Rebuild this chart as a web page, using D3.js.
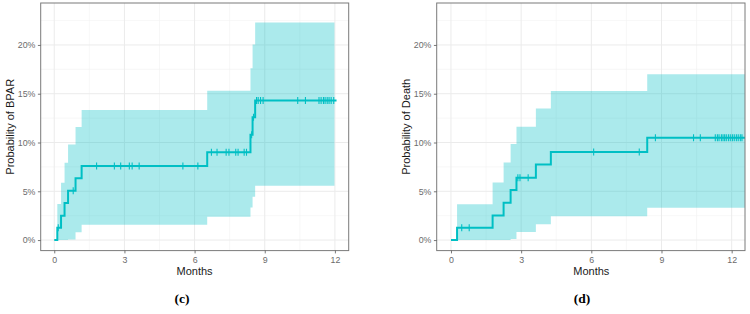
<!DOCTYPE html>
<html>
<head>
<meta charset="utf-8">
<script src="https://cdn.jsdelivr.net/npm/d3@7"></script>
<style>
  html, body { margin: 0; padding: 0; background: #fff; }
  svg { display: block; }
</style>
</head>
<body>
<svg id="chart" width="750" height="314"></svg>
<script>
// ---------- shared axis ticks ----------
const monthTicks = [0, 3, 6, 9, 12];
const monthMinor = [1.5, 4.5, 7.5, 10.5];
const pctTicks = [0, 5, 10, 15, 20];
const pctMinor = [2.5, 7.5, 12.5, 17.5, 22.5];

// ---------- panel (c): BPAR ----------
const bparTime  = [0, 0.13, 0.29, 0.44, 0.59, 0.91, 1.17, 6.54, 8.39, 8.48, 8.59];
const bparEst   = [0, 1.25, 2.50, 3.80, 5.06, 6.33, 7.60, 9.00, 10.80, 12.60, 14.30];
const bparUpper = [0, 3.69, 5.87, 7.92, 9.80, 11.58, 13.32, 15.30, 17.60, 20.05, 22.30];
const bparLower = [0, 0, 0, 0, 0.07, 0.79, 1.57, 2.39, 3.35, 4.44, 5.57];
const bparLineEnd = 12.07;
const bparBandEnd = 11.98;
const bparCensor = [0.17, 0.81, 1.81, 2.57, 2.84, 3.21, 3.33, 3.63, 5.50, 6.14,
  6.72, 6.96, 7.35, 7.47, 7.76, 7.86, 8.12, 8.22, 8.44, 8.52,
  8.65, 8.72, 8.82, 8.93, 10.41, 10.74, 11.32, 11.41, 11.51, 11.58, 11.67, 11.75, 11.84, 11.95];

// ---------- panel (d): Death ----------
const deathTime  = [0, 0.26, 1.78, 2.25, 2.55, 2.80, 3.63, 4.27, 8.39];
const deathEst   = [0, 1.26, 2.53, 3.82, 5.12, 6.38, 7.75, 9.02, 10.48];
const deathUpper = [0, 3.66, 5.91, 7.96, 9.84, 11.61, 13.49, 15.27, 17.00];
const deathLower = [0, 0, 0, 0, 0.10, 0.82, 1.61, 2.43, 3.31];
const deathLineEnd = 12.6;
const deathBandEnd = 12.6;
const deathCensor = [0.46, 0.78, 2.86, 2.95, 3.30, 6.10, 8.05, 8.74, 10.37, 10.66,
  11.30, 11.39, 11.46, 11.56, 11.63, 11.70, 11.77, 11.86, 11.94, 12.03, 12.11, 12.20, 12.28, 12.37, 12.44];

const teal = "#00BFC4";
const svg = d3.select("#chart");

function drawPanel(cfg) {
  const { left, right, top, bottom, xDomain, yDomain, times, est, upper, lower,
          lineEnd, bandEnd, censor, yTitle, titleX, caption, captionX, id } = cfg;
  const x = d3.scaleLinear().domain(xDomain).range([left, right]);
  const y = d3.scaleLinear().domain(yDomain).range([bottom, top]);
  const g = svg.append("g");

  g.append("clipPath").attr("id", id)
    .append("rect").attr("x", left).attr("y", top)
    .attr("width", right - left).attr("height", bottom - top);

  // grid
  const grid = g.append("g");
  grid.selectAll(".vmin").data(monthMinor).join("line")
    .attr("x1", d => x(d)).attr("x2", d => x(d)).attr("y1", top).attr("y2", bottom)
    .attr("stroke", "#F2F2F2").attr("stroke-width", 0.6);
  grid.selectAll(".hmin").data(pctMinor).join("line")
    .attr("y1", d => y(d)).attr("y2", d => y(d)).attr("x1", left).attr("x2", right)
    .attr("stroke", "#F2F2F2").attr("stroke-width", 0.6);
  grid.selectAll(".vmaj").data(monthTicks).join("line")
    .attr("x1", d => x(d)).attr("x2", d => x(d)).attr("y1", top).attr("y2", bottom)
    .attr("stroke", "#EBEBEB").attr("stroke-width", 1);
  grid.selectAll(".hmaj").data(pctTicks).join("line")
    .attr("y1", d => y(d)).attr("y2", d => y(d)).attr("x1", left).attr("x2", right)
    .attr("stroke", "#EBEBEB").attr("stroke-width", 1);

  const plot = g.append("g").attr("clip-path", `url(#${id})`);

  // confidence band
  const bandPts = times.map((t, i) => ({ t, lo: lower[i], hi: upper[i] }));
  bandPts.push({ t: bandEnd, lo: lower[lower.length - 1], hi: upper[upper.length - 1] });
  plot.append("path").datum(bandPts)
    .attr("d", d3.area().curve(d3.curveStepAfter)
      .x(d => x(d.t)).y0(d => y(d.lo)).y1(d => y(d.hi)))
    .attr("fill", teal).attr("fill-opacity", 0.33).attr("stroke", "none");

  // KM step line
  const linePts = times.map((t, i) => ({ t, v: est[i] }));
  linePts.push({ t: lineEnd, v: est[est.length - 1] });
  plot.append("path").datum(linePts)
    .attr("d", d3.line().curve(d3.curveStepAfter).x(d => x(d.t)).y(d => y(d.v)))
    .attr("fill", "none").attr("stroke", teal).attr("stroke-width", 2);

  // censor marks
  const valueAt = t => est[Math.max(0, d3.bisectRight(times, t) - 1)];
  plot.selectAll(".cens").data(censor).join("line")
    .attr("x1", d => x(d)).attr("x2", d => x(d))
    .attr("y1", d => y(valueAt(d)) - 3.5).attr("y2", d => y(valueAt(d)) + 3.5)
    .attr("stroke", teal).attr("stroke-width", 1.1);

  // panel border
  g.append("rect").attr("x", left).attr("y", top)
    .attr("width", right - left).attr("height", bottom - top)
    .attr("fill", "none").attr("stroke", "#7a7a7a").attr("stroke-width", 1);

  // axes
  const xAxis = g.append("g").attr("transform", `translate(0,${bottom})`)
    .call(d3.axisBottom(x).tickValues(monthTicks).tickSize(2.8).tickPadding(3).tickFormat(d3.format("d")));
  const yAxis = g.append("g").attr("transform", `translate(${left},0)`)
    .call(d3.axisLeft(y).tickValues(pctTicks).tickSize(2.8).tickPadding(2.5).tickFormat(d => d + "%"));
  [xAxis, yAxis].forEach(a => {
    a.select(".domain").remove();
    a.selectAll(".tick line").attr("stroke", "#555").attr("stroke-width", 0.8);
    a.selectAll(".tick text").attr("fill", "#6b6b6b")
      .style("font-family", "'Liberation Sans', Arial, sans-serif").style("font-size", "8.8px");
  });

  // titles
  g.append("text").attr("x", (x(0) + x(12)) / 2).attr("y", 275)
    .attr("text-anchor", "middle").attr("fill", "#1a1a1a")
    .style("font-family", "'Liberation Sans', Arial, sans-serif").style("font-size", "11px")
    .text("Months");
  g.append("text")
    .attr("transform", `translate(${titleX},${(top + bottom) / 2}) rotate(-90)`)
    .attr("text-anchor", "middle").attr("fill", "#1a1a1a")
    .style("font-family", "'Liberation Sans', Arial, sans-serif").style("font-size", "11px")
    .text(yTitle);
  g.append("text").attr("x", captionX).attr("y", 303)
    .attr("text-anchor", "middle").attr("fill", "#000")
    .style("font-family", "'Liberation Serif', 'Times New Roman', serif")
    .style("font-size", "13.5px").style("font-weight", "bold")
    .text(caption);
}

drawPanel({
  id: "clipC", left: 40.7, right: 348.7, top: 3, bottom: 250.6,
  xDomain: [-0.58, 12.59], yDomain: [-1.08, 24.3],
  times: bparTime, est: bparEst, upper: bparUpper, lower: bparLower,
  lineEnd: bparLineEnd, bandEnd: bparBandEnd, censor: bparCensor,
  yTitle: "Probability of BPAR", titleX: 14, caption: "(c)", captionX: 182
});
drawPanel({
  id: "clipD", left: 436.7, right: 745, top: 3, bottom: 250.6,
  xDomain: [-0.61, 12.57], yDomain: [-1.08, 24.3],
  times: deathTime, est: deathEst, upper: deathUpper, lower: deathLower,
  lineEnd: deathLineEnd, bandEnd: deathBandEnd, censor: deathCensor,
  yTitle: "Probability of Death", titleX: 409.5, caption: "(d)", captionX: 582
});
</script>
</body>
</html>
